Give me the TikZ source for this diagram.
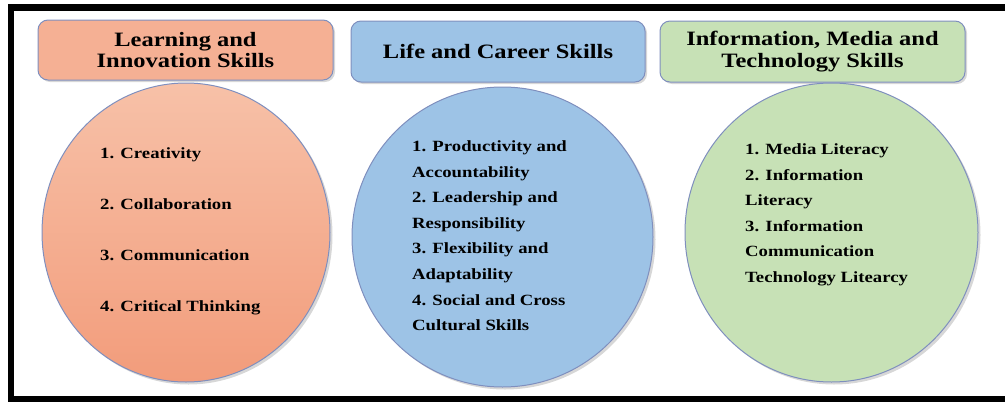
\documentclass[tikz,border=0pt]{standalone}
\usepackage{fontspec}
\setmainfont{Liberation Serif}[FakeStretch=1.2]
\usetikzlibrary{shapes.geometric,shadows}

\definecolor{edgeblue}{HTML}{7F8FBE}
\definecolor{orangetop}{HTML}{F7C1A8}
\definecolor{orangebot}{HTML}{F29C7B}
\definecolor{orangebox}{HTML}{F5B094}
\definecolor{bluefill}{HTML}{9DC3E6}
\definecolor{greenfill}{HTML}{C7E1B6}

\begin{document}
\begin{tikzpicture}[x=1pt, y=-1pt]
            \useasboundingbox (0,0) rectangle (1005,402);
            {
                \tikzset{
                    head/.style = {shape=rectangle, rounded corners=10pt, draw=edgeblue, line width=1pt,
                        inner sep=0pt, align=center, font=\fontsize{20.4}{21.5}\selectfont\bfseries,
                        drop shadow={shadow xshift=2pt, shadow yshift=-2pt, fill=black!45, opacity=0.35}},
                    blob/.style = {shape=ellipse, draw=edgeblue, line width=1pt, inner sep=0pt,
                        drop shadow={shadow xshift=2.5pt, shadow yshift=-2.5pt, fill=black!45, opacity=0.35}},
                    items/.style = {anchor=north west, inner sep=0pt, align=left}
                }

                \node[head, fill=orangebox, minimum width=295pt, minimum height=60pt] (h1) at (185.5, 50) {Learning and\\Innovation Skills};
                \node[head, fill=bluefill, minimum width=294pt, minimum height=61pt] (h2) at (498, 51.5) {Life and Career Skills};
                \node[head, fill=greenfill, minimum width=305pt, minimum height=61pt] (h3) at (812.5, 51.5) {Information, Media and\\Technology Skills};

                \node[blob, top color=orangetop, bottom color=orangebot, minimum width=288pt, minimum height=299pt] (e1) at (186, 232.5) {};
                \node[blob, fill=bluefill, minimum width=301pt, minimum height=300pt] (e2) at (502.5, 237) {};
                \node[blob, fill=greenfill, minimum width=293pt, minimum height=299pt] (e3) at (831.5, 232.5) {};

                \node[items, font=\fontsize{15.6}{51}\selectfont\bfseries] (l1) at (100, 147)
                    {1. Creativity\\2. Collaboration\\3. Communication\\4. Critical Thinking};
                \node[items, font=\fontsize{15.6}{25.6}\selectfont\bfseries] (l2) at (412, 140.5)
                    {1. Productivity and\\Accountability\\2. Leadership and\\Responsibility\\3. Flexibility and\\Adaptability\\4. Social and Cross\\Cultural Skills};
                \node[items, font=\fontsize{15.6}{25.5}\selectfont\bfseries] (l3) at (745, 143.5)
                    {1. Media Literacy\\2. Information\\Literacy\\3. Information\\Communication\\Technology Litearcy};
            }

            \draw[line width=6.5pt] (1010, 7.5) -- (11, 7.5) -- (11, 399) -- (1010, 399);

        \end{tikzpicture}
\end{document}
